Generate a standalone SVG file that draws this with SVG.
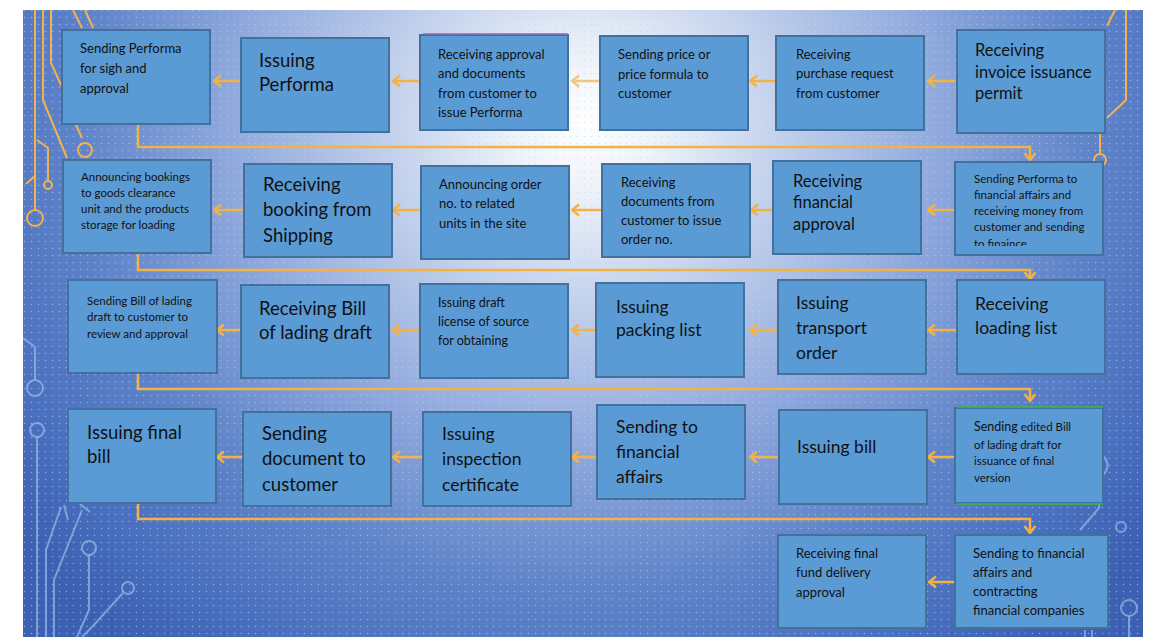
<svg xmlns="http://www.w3.org/2000/svg" width="1153" height="640" viewBox="0 0 1153 640">
  <defs>
    <radialGradient id="bg" gradientUnits="userSpaceOnUse" cx="585" cy="125" r="720" gradientTransform="translate(585 125) scale(1 0.92) translate(-585 -125)">
      <stop offset="0" stop-color="#ffffff"/>
      <stop offset="0.1" stop-color="#eef2f9"/>
      <stop offset="0.3" stop-color="#bccbea"/>
      <stop offset="0.5" stop-color="#8ea7dc"/>
      <stop offset="0.7" stop-color="#6084c9"/>
      <stop offset="0.88" stop-color="#4a6fbe"/>
      <stop offset="1" stop-color="#3d60b2"/>
    </radialGradient>
    <pattern id="dots" width="7" height="7" patternUnits="userSpaceOnUse">
      <circle cx="3.5" cy="3.5" r="0.8" fill="#a6e0f7" opacity="0.55"/>
    </pattern>
    <marker id="ah" viewBox="0 0 10 14" refX="8.5" refY="7" markerWidth="10" markerHeight="14" markerUnits="userSpaceOnUse" orient="auto">
      <path d="M1.5,1.5 L8.5,7 L1.5,12.5" fill="none" stroke="#f4b244" stroke-width="2.4"/>
    </marker>
    <clipPath id="clip12"><rect x="955" y="162" width="148" height="84"/></clipPath>
    <style>
      .box{fill:#5b9bd5;stroke:#41719c;stroke-width:2}
      .t{font-family:Lato,"Open Sans","Liberation Sans",sans-serif;fill:#111}
      .s11{font-size:11.5px}
      .s12{font-size:12.5px}
      .s13{font-size:13px}
      .s16{font-size:16.5px}
      .s17{font-size:17.5px}
      .s18{font-size:18.5px}
      .con{fill:none;stroke:#f4b244;stroke-width:2.5}
      .arr{fill:none;stroke:#f4b244;stroke-width:2.5;marker-end:url(#ah)}
      .deco-o{fill:none;stroke:#f2b24d;stroke-width:2}
      .deco-b{fill:none;stroke:#9cc3ea;stroke-width:2;opacity:0.65}
    </style>
  </defs>

  <rect x="0" y="0" width="1153" height="640" fill="#ffffff"/>
  <rect x="23" y="10" width="1120" height="627" fill="url(#bg)"/>
  <rect x="23" y="10" width="1120" height="627" fill="url(#dots)"/>

  <g id="decoration">
    <path class="deco-o" d="M35,10 V210 M35,176 L26,184 M43,10 V100 L67,158 M51,10 V63 L62,87 M73,10 L82,28 M85,10 L93,28 M37,140 L48,148 V181 M76,125 L82,138"/>
    <circle class="deco-o" cx="35" cy="218" r="8"/>
    <circle class="deco-o" cx="48" cy="185" r="4"/>
    <circle class="deco-o" cx="85" cy="150" r="7"/>
    <path class="deco-o" d="M1115,10 L1107,26 M1126,10 V100 L1107,118 M1100,133 V153"/>
    <circle class="deco-o" cx="1100" cy="160" r="6"/>
    <path class="deco-b" d="M23,338 L35,347 V380 M37,437 V637 M46,637 V550 L61,507 M54,637 V580 L82,510 M89,555 V610 L77,637 M123,593 L92,627 L82,637 M64,505 L68,520 M80,504 L90,512"/>
    <circle class="deco-b" cx="35" cy="388" r="8"/>
    <circle class="deco-b" cx="37" cy="430" r="7"/>
    <circle class="deco-b" cx="89" cy="548" r="7"/>
    <circle class="deco-b" cx="128" cy="588" r="6"/>
    <path class="deco-b" d="M1103,456 Q1112,465 1103,475 M1080,530 L1099,508 V504 M1129,616 V637 M1085,630 V637 M1092,630 V637"/>
    <circle class="deco-b" cx="1121" cy="527" r="5"/>
    <circle class="deco-b" cx="1129" cy="608" r="8"/>
  </g>

  <g id="connectors">
    <line class="arr" x1="241" y1="81" x2="214" y2="81"/>
    <line class="arr" x1="420" y1="81" x2="393" y2="81"/>
    <line class="arr" x1="600" y1="81" x2="572" y2="81" opacity="0.7"/>
    <line class="arr" x1="776" y1="81" x2="750" y2="81"/>
    <line class="arr" x1="957" y1="81" x2="928" y2="81"/>
    <path class="arr" d="M138,124 V147 H1030 V160"/>

    <line class="arr" x1="244" y1="210" x2="214" y2="210"/>
    <line class="arr" x1="421" y1="210" x2="393" y2="210"/>
    <line class="arr" x1="602" y1="210" x2="572" y2="210"/>
    <line class="arr" x1="773" y1="210" x2="751" y2="210"/>
    <line class="arr" x1="955" y1="210" x2="928" y2="210"/>
    <path class="arr" d="M138,253 V270 H1030 V279"/>

    <line class="arr" x1="241" y1="330" x2="217" y2="330"/>
    <line class="arr" x1="420" y1="330" x2="393" y2="330"/>
    <line class="arr" x1="596" y1="330" x2="572" y2="330"/>
    <line class="arr" x1="778" y1="330" x2="750" y2="330"/>
    <line class="arr" x1="957" y1="330" x2="928" y2="330"/>
    <path class="arr" d="M138,373 V389 H1030 V401"/>

    <line class="arr" x1="243" y1="457" x2="217" y2="457"/>
    <line class="arr" x1="423" y1="457" x2="393" y2="457"/>
    <line class="arr" x1="597" y1="457" x2="572" y2="457"/>
    <line class="arr" x1="779" y1="457" x2="750" y2="457"/>
    <line class="arr" x1="955" y1="457" x2="928" y2="457"/>
    <path class="arr" d="M138,503 V519 H1030 V533"/>

    <line class="arr" x1="955" y1="582" x2="929" y2="582"/>
  </g>

  <g id="n1">
    <rect class="box" x="62" y="30" width="148" height="94"/>
    <text class="t s13"><tspan x="80" y="53">Sending Performa</tspan><tspan x="80" y="73">for sigh and</tspan><tspan x="80" y="93">approval</tspan></text>
  </g>
  <g id="n2">
    <rect class="box" x="241" y="38" width="148" height="94"/>
    <text class="t s18"><tspan x="259" y="67">Issuing</tspan><tspan x="259" y="91">Performa</tspan></text>
  </g>
  <g id="n3">
    <rect class="box" x="420" y="35" width="148" height="95"/>
    <line x1="423" y1="34" x2="568" y2="34" stroke="#8e6bb0" stroke-width="1.5"/>
    <text class="t s13"><tspan x="438" y="59">Receiving approval</tspan><tspan x="438" y="78">and documents</tspan><tspan x="438" y="98">from customer to</tspan><tspan x="438" y="117">issue Performa</tspan></text>
  </g>
  <g id="n4">
    <rect class="box" x="600" y="36" width="148" height="94"/>
    <text class="t s13"><tspan x="618" y="59">Sending price or</tspan><tspan x="618" y="79">price formula to</tspan><tspan x="618" y="98">customer</tspan></text>
  </g>
  <g id="n5">
    <rect class="box" x="776" y="36" width="148" height="94"/>
    <text class="t s13"><tspan x="796" y="59">Receiving</tspan><tspan x="796" y="78">purchase request</tspan><tspan x="796" y="98">from customer</tspan></text>
  </g>
  <g id="n6">
    <rect class="box" x="957" y="30" width="148" height="103"/>
    <text class="t s16"><tspan x="975" y="56">Receiving</tspan><tspan x="975" y="78">invoice issuance</tspan><tspan x="975" y="99">permit</tspan></text>
  </g>

  <g id="n7">
    <rect class="box" x="63" y="160" width="148" height="93"/>
    <text class="t s11"><tspan x="81" y="181">Announcing bookings</tspan><tspan x="81" y="197">to goods clearance</tspan><tspan x="81" y="213">unit and the products</tspan><tspan x="81" y="229">storage for loading</tspan></text>
  </g>
  <g id="n8">
    <rect class="box" x="244" y="164" width="148" height="93"/>
    <text class="t s18"><tspan x="263" y="191">Receiving</tspan><tspan x="263" y="216">booking from</tspan><tspan x="263" y="242">Shipping</tspan></text>
  </g>
  <g id="n9">
    <rect class="box" x="421" y="166" width="148" height="93"/>
    <text class="t s13"><tspan x="439" y="189">Announcing order</tspan><tspan x="439" y="208">no. to related</tspan><tspan x="439" y="228">units in the site</tspan></text>
  </g>
  <g id="n10">
    <rect class="box" x="602" y="164" width="148" height="93"/>
    <text class="t s13"><tspan x="621" y="187">Receiving</tspan><tspan x="621" y="206">documents from</tspan><tspan x="621" y="225">customer to issue</tspan><tspan x="621" y="244">order no.</tspan></text>
  </g>
  <g id="n11">
    <rect class="box" x="773" y="161" width="148" height="93"/>
    <text class="t s16"><tspan x="793" y="187">Receiving</tspan><tspan x="793" y="208">financial</tspan><tspan x="793" y="230">approval</tspan></text>
  </g>
  <g id="n12">
    <rect class="box" x="955" y="162" width="148" height="93"/>
    <text class="t s11" clip-path="url(#clip12)"><tspan x="974" y="183">Sending Performa to</tspan><tspan x="974" y="199">financial affairs and</tspan><tspan x="974" y="215">receiving money from</tspan><tspan x="974" y="231">customer and sending</tspan><tspan x="974" y="248">to finaince</tspan></text>
  </g>

  <g id="n13">
    <rect class="box" x="68" y="280" width="149" height="93"/>
    <text class="t s11"><tspan x="87" y="305">Sending Bill of lading</tspan><tspan x="87" y="321">draft to customer to</tspan><tspan x="87" y="338">review and approval</tspan></text>
  </g>
  <g id="n14">
    <rect class="box" x="241" y="285" width="148" height="93"/>
    <text class="t s18"><tspan x="259" y="315">Receiving Bill</tspan><tspan x="259" y="339">of lading draft</tspan></text>
  </g>
  <g id="n15">
    <rect class="box" x="420" y="284" width="148" height="94"/>
    <text class="t s12"><tspan x="438" y="307">Issuing draft</tspan><tspan x="438" y="326">license of source</tspan><tspan x="438" y="345">for obtaining</tspan></text>
  </g>
  <g id="n16">
    <rect class="box" x="596" y="283" width="148" height="94"/>
    <text class="t s17"><tspan x="616" y="313">Issuing</tspan><tspan x="616" y="336">packing list</tspan></text>
  </g>
  <g id="n17">
    <rect class="box" x="778" y="280" width="148" height="94"/>
    <text class="t s17"><tspan x="796" y="309">Issuing</tspan><tspan x="796" y="334">transport</tspan><tspan x="796" y="359">order</tspan></text>
  </g>
  <g id="n18">
    <rect class="box" x="957" y="280" width="148" height="94"/>
    <text class="t s17"><tspan x="975" y="310">Receiving</tspan><tspan x="975" y="334">loading list</tspan></text>
  </g>

  <g id="n19">
    <rect class="box" x="68" y="409" width="148" height="94"/>
    <text class="t s18"><tspan x="87" y="439">Issuing final</tspan><tspan x="87" y="463">bill</tspan></text>
  </g>
  <g id="n20">
    <rect class="box" x="243" y="412" width="148" height="94"/>
    <text class="t s18"><tspan x="262" y="440">Sending</tspan><tspan x="262" y="465">document to</tspan><tspan x="262" y="491">customer</tspan></text>
  </g>
  <g id="n21">
    <rect class="box" x="423" y="412" width="148" height="94"/>
    <text class="t s17"><tspan x="442" y="440">Issuing</tspan><tspan x="442" y="465">inspection</tspan><tspan x="442" y="491">certificate</tspan></text>
  </g>
  <g id="n22">
    <rect class="box" x="597" y="405" width="148" height="94"/>
    <text class="t s17"><tspan x="616" y="433">Sending to</tspan><tspan x="616" y="458">financial</tspan><tspan x="616" y="483">affairs</tspan></text>
  </g>
  <g id="n23">
    <rect class="box" x="779" y="410" width="148" height="94"/>
    <text class="t s17"><tspan x="797" y="453">Issuing bill</tspan></text>
  </g>
  <g id="n24">
    <rect class="box" x="955" y="408" width="148" height="95"/>
    <line x1="957" y1="407" x2="1103" y2="407" stroke="#3fb64a" stroke-width="1.5"/>
    <line x1="957" y1="504" x2="1103" y2="504" stroke="#3fb64a" stroke-width="1.5"/>
    <text class="t s11"><tspan x="974" y="431" style="font-size:12.5px">Sending</tspan><tspan> edited Bill</tspan><tspan x="974" y="449">of lading draft for</tspan><tspan x="974" y="465">issuance of final</tspan><tspan x="974" y="482">version</tspan></text>
  </g>

  <g id="n25">
    <rect class="box" x="778" y="535" width="148" height="93"/>
    <text class="t s13"><tspan x="796" y="558">Receiving final</tspan><tspan x="796" y="577">fund delivery</tspan><tspan x="796" y="597">approval</tspan></text>
  </g>
  <g id="n26">
    <rect class="box" x="955" y="535" width="153" height="93"/>
    <text class="t s13"><tspan x="973" y="558">Sending to financial</tspan><tspan x="973" y="577">affairs and</tspan><tspan x="973" y="596">contracting</tspan><tspan x="973" y="615">financial companies</tspan></text>
  </g>
</svg>
